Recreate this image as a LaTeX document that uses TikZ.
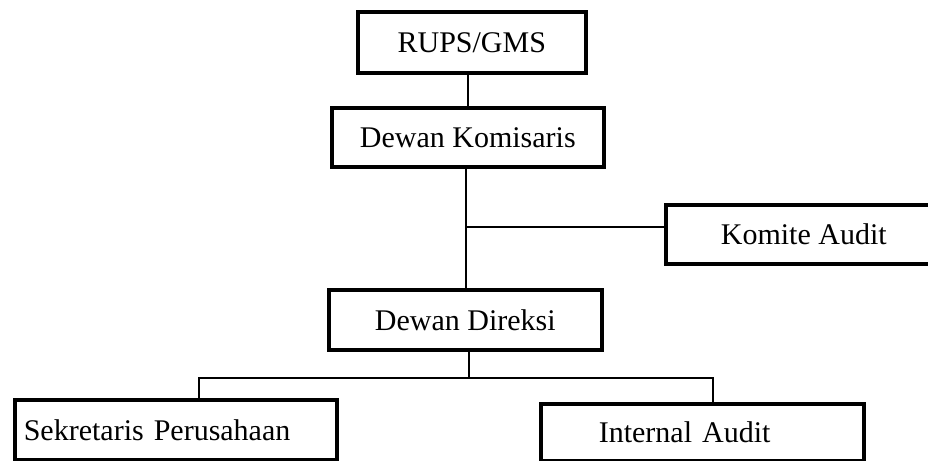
\documentclass[tikz,border=0pt]{standalone}
\usepackage{fontspec}
\setmainfont{Liberation Serif}
\begin{document}
\begin{tikzpicture}[x=1pt,y=-1pt,
  orgbox/.style={draw=black, line width=3.6pt, fill=white, inner sep=0pt,
    font=\fontsize{30}{36}\selectfont, anchor=north west},
  link/.style={draw=black, line width=2.2pt}]
  \useasboundingbox (0,0) rectangle (928,460);
  \clip (0,0) rectangle (928,460);

  % boxes (placed by their top-left corners)
  \node[orgbox, minimum width=228pt, minimum height=61pt] (rups) at (356,10) {RUPS/GMS};
  \node[orgbox, minimum width=272pt, minimum height=59pt] (kom) at (330,106) {Dewan Komisaris};
  \node[orgbox, minimum width=276pt, minimum height=59pt] (audit) at (664,203) {Komite Audit};
  \node[orgbox, minimum width=273pt, minimum height=60pt] (dir) at (327,288) {Dewan Direksi};
  \node[orgbox, inner xsep=9pt, text width=304pt, align=left, minimum height=60pt] (sek) at (13,398) {Sekretaris Perusahaan};
  \node[orgbox, inner xsep=58pt, text width=207pt, align=left, minimum height=57pt] (ia) at (539,402) {Internal Audit};

  % junction points of the connectors
  \coordinate (k1) at (468,0);
  \coordinate (k2) at (466,0);
  \coordinate (ja) at (466,227);
  \coordinate (d1) at (469,0);
  \coordinate (jd) at (469,378);
  \coordinate (js) at (199,378);
  \coordinate (ji) at (713,378);

  % connectors
  \draw[link] (k1 |- rups.south) -- (k1 |- kom.north);
  \draw[link] (k2 |- kom.south) -- (k2 |- dir.north);
  \draw[link] (ja) -- (ja -| audit.west);
  \draw[link] (d1 |- dir.south) -- (jd);
  \draw[link] (js |- sek.north) -- (js) -- (ji) -- (ji |- ia.north);
\end{tikzpicture}
\end{document}
